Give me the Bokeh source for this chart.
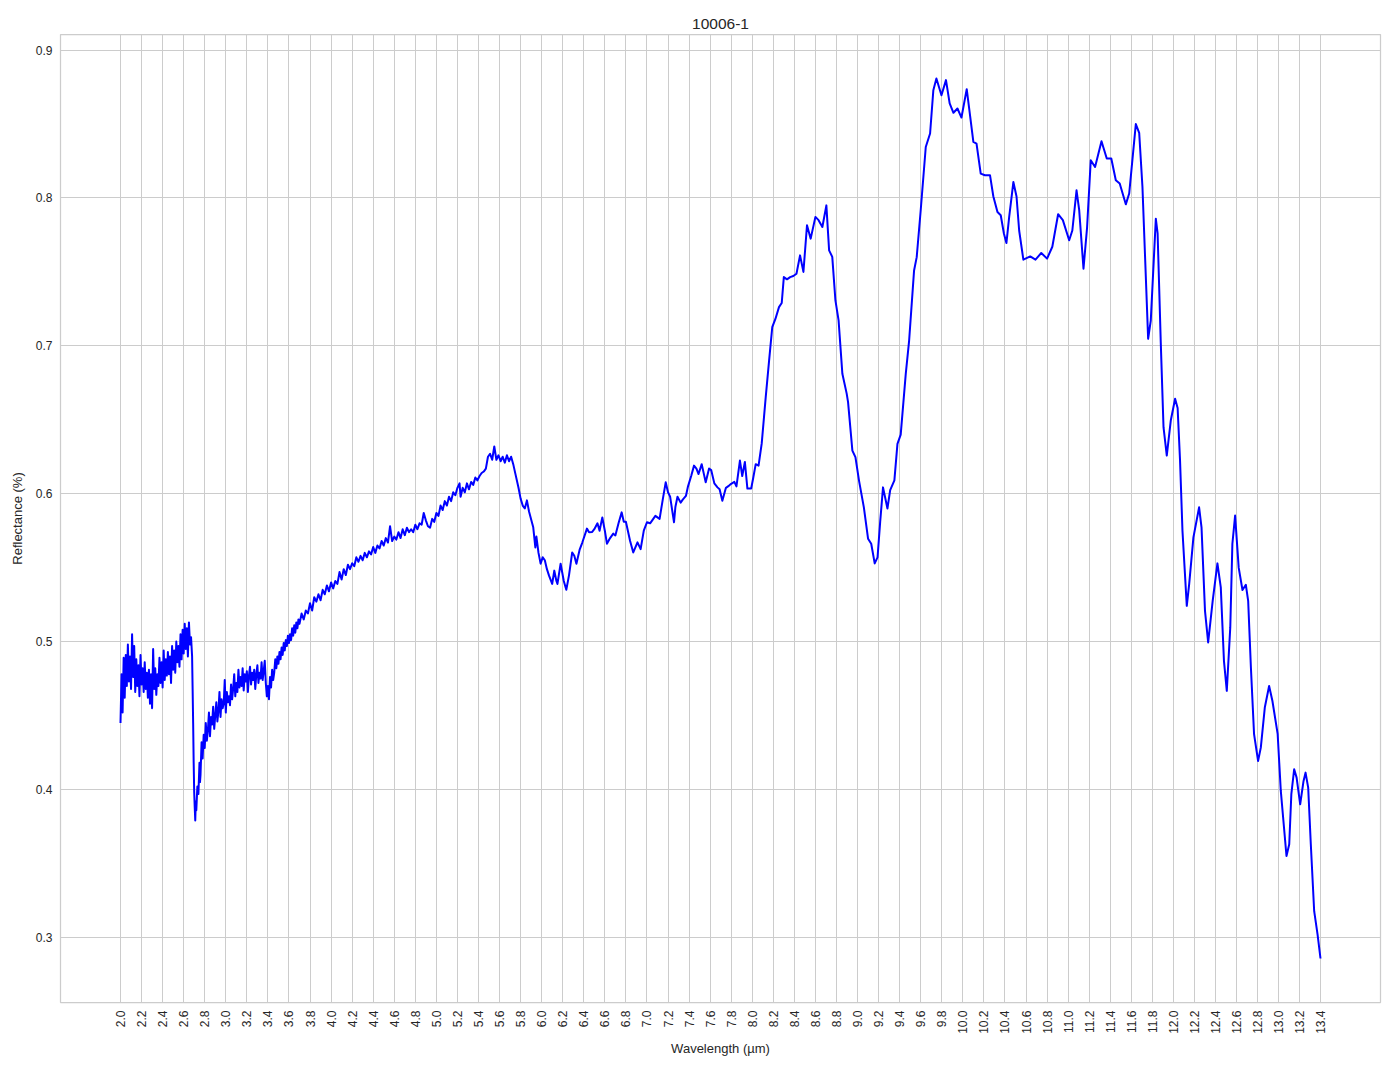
from bokeh.plotting import figure
from bokeh.models import Range1d, FixedTicker
from bokeh.embed import file_html
from bokeh.resources import INLINE
from math import pi

# ---------------- data ----------------
title_text = "10006-1"
x_label = "Wavelength (\u00b5m)"
y_label = "Reflectance (%)"

wl_a = [2.00, 2.01, 2.02, 2.03, 2.04, 2.05, 2.06, 2.07, 2.08, 2.09,
        2.10, 2.11, 2.12, 2.13, 2.14, 2.15, 2.16, 2.17, 2.18, 2.19,
        2.20, 2.21, 2.22, 2.23, 2.24, 2.25, 2.26, 2.27, 2.28, 2.29,
        2.30, 2.31, 2.32, 2.33, 2.34, 2.35, 2.36, 2.37, 2.38, 2.39,
        2.40, 2.41, 2.42, 2.43, 2.44, 2.45, 2.46, 2.47, 2.48, 2.49,
        2.50, 2.51, 2.52, 2.53, 2.54, 2.55, 2.56, 2.57, 2.58, 2.59,
        2.60, 2.61, 2.62, 2.63, 2.64, 2.65, 2.66, 2.67]
refl_a = [0.445, 0.478, 0.452, 0.489, 0.462, 0.491, 0.470, 0.498, 0.473, 0.490,
          0.468, 0.505, 0.476, 0.497, 0.466, 0.488, 0.470, 0.484, 0.463, 0.491,
          0.471, 0.482, 0.466, 0.486, 0.468, 0.479, 0.462, 0.481, 0.458, 0.478,
          0.455, 0.495, 0.468, 0.482, 0.464, 0.478, 0.470, 0.489, 0.472, 0.486,
          0.469, 0.494, 0.474, 0.488, 0.477, 0.493, 0.478, 0.490, 0.472, 0.497,
          0.481, 0.494, 0.479, 0.500, 0.486, 0.497, 0.483, 0.505, 0.488, 0.508,
          0.492, 0.512, 0.495, 0.509, 0.490, 0.513, 0.498, 0.503]

wl_b = [2.68, 2.685, 2.69, 2.695, 2.70, 2.705, 2.71, 2.715, 2.72, 2.73,
        2.74, 2.75, 2.755, 2.76, 2.77, 2.78, 2.79, 2.80, 2.81, 2.82,
        2.83, 2.84, 2.85, 2.86, 2.87, 2.88, 2.89, 2.90, 2.91, 2.92,
        2.93, 2.94, 2.95, 2.96, 2.97, 2.98, 2.99, 3.00, 3.01, 3.02,
        3.03, 3.04, 3.05, 3.06, 3.07, 3.08, 3.09, 3.10, 3.11, 3.12,
        3.13, 3.14, 3.15, 3.16, 3.17, 3.18, 3.19, 3.20, 3.21, 3.22,
        3.23, 3.24, 3.25, 3.26, 3.27, 3.28, 3.29, 3.30, 3.31, 3.32,
        3.33, 3.34, 3.35, 3.36, 3.37, 3.38, 3.39, 3.40, 3.41, 3.42,
        3.43, 3.44, 3.45, 3.46, 3.47, 3.48, 3.49, 3.50, 3.51, 3.52,
        3.53, 3.54, 3.55, 3.56, 3.57, 3.58, 3.59, 3.60, 3.61, 3.62,
        3.63, 3.64, 3.65, 3.66, 3.67, 3.68, 3.69]
refl_b = [0.490, 0.468, 0.445, 0.418, 0.398, 0.388, 0.379, 0.392, 0.386, 0.402,
          0.397, 0.418, 0.405, 0.410, 0.432, 0.421, 0.437, 0.428, 0.445, 0.433,
          0.440, 0.452, 0.436, 0.449, 0.444, 0.456, 0.441, 0.450, 0.459, 0.446,
          0.453, 0.466, 0.449, 0.461, 0.455, 0.458, 0.474, 0.452, 0.466, 0.459,
          0.463, 0.457, 0.471, 0.461, 0.468, 0.478, 0.463, 0.472, 0.466, 0.481,
          0.469, 0.476, 0.470, 0.482, 0.467, 0.478, 0.473, 0.480, 0.466, 0.477,
          0.483, 0.471, 0.479, 0.474, 0.481, 0.468, 0.478, 0.484, 0.472, 0.479,
          0.475, 0.486, 0.474, 0.480, 0.487, 0.472, 0.463, 0.470, 0.461, 0.476,
          0.469, 0.481, 0.474, 0.479, 0.488, 0.482, 0.490, 0.485, 0.493, 0.488,
          0.496, 0.491, 0.499, 0.494, 0.501, 0.497, 0.504, 0.499, 0.505, 0.501,
          0.509, 0.504, 0.511, 0.506, 0.513, 0.509, 0.515]

wl_c = [3.70, 3.72, 3.74, 3.76, 3.78, 3.80, 3.82, 3.84, 3.86, 3.88,
        3.90, 3.92, 3.94, 3.96, 3.98, 4.00, 4.02, 4.04, 4.06, 4.08,
        4.10, 4.12, 4.14, 4.16, 4.18, 4.20, 4.22, 4.24, 4.26, 4.28,
        4.30, 4.32, 4.34, 4.36, 4.38, 4.40, 4.42, 4.44, 4.46, 4.48,
        4.50, 4.52, 4.54, 4.56, 4.58, 4.60, 4.62, 4.64, 4.66, 4.68,
        4.70, 4.72, 4.74, 4.76, 4.78, 4.80, 4.82, 4.84, 4.86, 4.88,
        4.90, 4.92, 4.94, 4.96, 4.98, 5.00, 5.02, 5.04, 5.06, 5.08,
        5.10, 5.12, 5.14, 5.16, 5.18, 5.20, 5.22, 5.23, 5.25, 5.27,
        5.29, 5.31, 5.33, 5.35, 5.37, 5.39, 5.41, 5.43, 5.45, 5.47,
        5.49, 5.51, 5.53, 5.55, 5.57, 5.59, 5.61, 5.63, 5.65, 5.67,
        5.69, 5.71, 5.73]
refl_c = [0.512, 0.519, 0.515, 0.521, 0.519, 0.526, 0.521, 0.530, 0.527, 0.532,
          0.528, 0.535, 0.532, 0.538, 0.534, 0.540, 0.536, 0.541, 0.539, 0.547,
          0.542, 0.549, 0.545, 0.552, 0.549, 0.553, 0.551, 0.557, 0.554, 0.558,
          0.555, 0.560, 0.557, 0.561, 0.559, 0.564, 0.560, 0.565, 0.563, 0.568,
          0.565, 0.570, 0.567, 0.578, 0.568, 0.571, 0.569, 0.574, 0.570, 0.576,
          0.572, 0.577, 0.574, 0.576, 0.574, 0.579, 0.576, 0.580, 0.579, 0.587,
          0.582, 0.578, 0.577, 0.583, 0.581, 0.587, 0.585, 0.592, 0.589, 0.595,
          0.592, 0.598, 0.595, 0.601, 0.599, 0.604, 0.607, 0.598, 0.604, 0.601,
          0.607, 0.603, 0.608, 0.606, 0.611, 0.609, 0.612, 0.614, 0.615, 0.617,
          0.625, 0.627, 0.623, 0.632, 0.623, 0.626, 0.622, 0.625, 0.621, 0.626,
          0.622, 0.625, 0.620]

wl_d = [5.75, 5.78, 5.80, 5.82, 5.84, 5.86, 5.88, 5.92, 5.94, 5.95,
        5.97, 5.99, 6.01, 6.03, 6.05, 6.07, 6.10, 6.12, 6.14, 6.15,
        6.18, 6.21, 6.234, 6.26, 6.29, 6.31, 6.33, 6.36, 6.386, 6.43,
        6.45, 6.48, 6.50, 6.53, 6.55, 6.576, 6.60, 6.62, 6.65, 6.68,
        6.70, 6.73, 6.76, 6.78, 6.80, 6.84, 6.87, 6.91, 6.94, 6.97,
        7.00, 7.03, 7.06, 7.08, 7.12, 7.15, 7.178, 7.20, 7.22, 7.257,
        7.27, 7.29, 7.32, 7.34, 7.37, 7.39, 7.42, 7.447, 7.47, 7.49,
        7.52, 7.558, 7.59, 7.61, 7.64, 7.67, 7.69, 7.716, 7.75, 7.78,
        7.80, 7.83, 7.85, 7.883, 7.905, 7.93, 7.954, 7.99, 8.01, 8.033,
        8.06, 8.09, 8.128, 8.16, 8.19, 8.22, 8.254, 8.28, 8.30, 8.33,
        8.36, 8.39, 8.42, 8.454, 8.486, 8.52, 8.555, 8.60, 8.63, 8.666,
        8.704, 8.73, 8.76, 8.79, 8.82, 8.856, 8.897, 8.91, 8.951, 8.98,
        9.014, 9.06, 9.10, 9.13, 9.163, 9.19, 9.215, 9.242, 9.284, 9.31,
        9.35, 9.379, 9.41, 9.458, 9.49, 9.537, 9.562, 9.60, 9.648, 9.689,
        9.72, 9.749, 9.797, 9.84, 9.875, 9.911, 9.949, 9.987, 10.037, 10.07,
        10.10, 10.13, 10.17, 10.21, 10.258, 10.29, 10.329, 10.36, 10.39, 10.414,
        10.44, 10.48, 10.51, 10.535, 10.575, 10.64, 10.69, 10.745, 10.80, 10.85,
        10.905, 10.95, 11.01, 11.04, 11.08, 11.105, 11.146, 11.18, 11.215, 11.256,
        11.317, 11.367, 11.41, 11.453, 11.49, 11.548, 11.58, 11.643, 11.675, 11.706,
        11.76, 11.785, 11.833, 11.85, 11.88, 11.906, 11.937, 11.975, 12.016, 12.04,
        12.063, 12.086, 12.127, 12.15, 12.19, 12.244, 12.267, 12.30, 12.33, 12.373,
        12.418, 12.45, 12.48, 12.507, 12.54, 12.56, 12.586, 12.62, 12.656, 12.688,
        12.71, 12.736, 12.766, 12.804, 12.83, 12.868, 12.909, 12.94, 12.99, 13.02,
        13.074, 13.10, 13.12, 13.147, 13.17, 13.204, 13.236, 13.255, 13.28, 13.305,
        13.337, 13.369, 13.397]
refl_d = [0.6136, 0.604, 0.5967, 0.592, 0.590, 0.5955, 0.588, 0.5773, 0.5637, 0.571,
          0.560, 0.5527, 0.557, 0.555, 0.549, 0.5446, 0.539, 0.548, 0.541, 0.539,
          0.5527, 0.541, 0.535, 0.545, 0.5603, 0.558, 0.5527, 0.562, 0.567, 0.5764,
          0.574, 0.5742, 0.576, 0.580, 0.575, 0.584, 0.575, 0.5662, 0.570, 0.573,
          0.5718, 0.580, 0.5874, 0.581, 0.581, 0.568, 0.5603, 0.5671, 0.5625, 0.575,
          0.5807, 0.580, 0.583, 0.585, 0.583, 0.596, 0.6077, 0.601, 0.598, 0.5807,
          0.591, 0.598, 0.594, 0.596, 0.5985, 0.605, 0.612, 0.619, 0.617, 0.6133,
          0.620, 0.6077, 0.617, 0.616, 0.607, 0.6043, 0.603, 0.5953, 0.604, 0.6055,
          0.6067, 0.608, 0.605, 0.6224, 0.612, 0.6215, 0.6035, 0.6035, 0.611, 0.620,
          0.619, 0.634, 0.6653, 0.690, 0.7126, 0.7182, 0.7262, 0.729, 0.7465, 0.745,
          0.7465, 0.7472, 0.7488, 0.7612, 0.750, 0.7815, 0.7725, 0.7872, 0.785, 0.7804,
          0.795, 0.7646, 0.7602, 0.7307, 0.7172, 0.6811, 0.6677, 0.662, 0.6292, 0.6247,
          0.6089, 0.5908, 0.5696, 0.5662, 0.5529, 0.557, 0.581, 0.6043, 0.590, 0.6025,
          0.609, 0.6337, 0.640, 0.6811, 0.7036, 0.751, 0.760, 0.7917, 0.8345, 0.8436,
          0.8729, 0.8808, 0.8695, 0.8797, 0.864, 0.8576, 0.8605, 0.8544, 0.8736, 0.855,
          0.8379, 0.8368, 0.8165, 0.8154, 0.8154, 0.801, 0.7905, 0.7883, 0.776, 0.7695,
          0.787, 0.8108, 0.801, 0.778, 0.7583, 0.7605, 0.7583, 0.7628, 0.759, 0.767,
          0.789, 0.785, 0.7714, 0.778, 0.8052, 0.792, 0.7522, 0.780, 0.8255, 0.821,
          0.8384, 0.8267, 0.8267, 0.812, 0.8098, 0.7957, 0.803, 0.850, 0.844, 0.8074,
          0.7048, 0.717, 0.786, 0.776, 0.702, 0.645, 0.6258, 0.6495, 0.6642, 0.658,
          0.6224, 0.575, 0.5242, 0.539, 0.5705, 0.5908, 0.5773, 0.5208, 0.4994, 0.5276,
          0.5529, 0.5367, 0.487, 0.4667, 0.5096, 0.566, 0.5852, 0.550, 0.5349, 0.5384,
          0.5276, 0.4825, 0.4374, 0.4193, 0.4283, 0.4554, 0.470, 0.460, 0.4376, 0.399,
          0.355, 0.363, 0.3968, 0.4137, 0.408, 0.390, 0.4058, 0.4114, 0.4013, 0.363,
          0.3177, 0.302, 0.2857]

x_ticks = [2.0, 2.2, 2.4, 2.6, 2.8, 3.0, 3.2, 3.4, 3.6, 3.8, 4.0, 4.2, 4.4, 4.6,
           4.8, 5.0, 5.2, 5.4, 5.6, 5.8, 6.0, 6.2, 6.4, 6.6, 6.8, 7.0, 7.2, 7.4,
           7.6, 7.8, 8.0, 8.2, 8.4, 8.6, 8.8, 9.0, 9.2, 9.4, 9.6, 9.8, 10.0, 10.2,
           10.4, 10.6, 10.8, 11.0, 11.2, 11.4, 11.6, 11.8, 12.0, 12.2, 12.4, 12.6,
           12.8, 13.0, 13.2, 13.4]
x_tick_labels = ["2.0", "2.2", "2.4", "2.6", "2.8", "3.0", "3.2", "3.4", "3.6", "3.8",
                 "4.0", "4.2", "4.4", "4.6", "4.8", "5.0", "5.2", "5.4", "5.6", "5.8",
                 "6.0", "6.2", "6.4", "6.6", "6.8", "7.0", "7.2", "7.4", "7.6", "7.8",
                 "8.0", "8.2", "8.4", "8.6", "8.8", "9.0", "9.2", "9.4", "9.6", "9.8",
                 "10.0", "10.2", "10.4", "10.6", "10.8", "11.0", "11.2", "11.4", "11.6",
                 "11.8", "12.0", "12.2", "12.4", "12.6", "12.8", "13.0", "13.2", "13.4"]
y_ticks = [0.3, 0.4, 0.5, 0.6, 0.7, 0.8, 0.9]
y_tick_labels = ["0.3", "0.4", "0.5", "0.6", "0.7", "0.8", "0.9"]

# ---------------- assemble ----------------
wavelength = wl_a + wl_b + wl_c + wl_d
reflectance = refl_a + refl_b + refl_c + refl_d

xmin, xmax = min(wavelength), max(wavelength)
ymin, ymax = min(reflectance), max(reflectance)
xpad = 0.05 * (xmax - xmin)
ypad = 0.05 * (ymax - ymin)

FONT = "Liberation Sans"
TXT = "#262626"
GRID = "#cccccc"

p = figure(width=1394, height=1069, output_backend="svg", toolbar_location=None,
           x_range=Range1d(xmin - xpad, xmax + xpad),
           y_range=Range1d(ymin - ypad, ymax + ypad),
           min_border_left=60, min_border_right=14, min_border_top=34,
           min_border_bottom=67)

p.title.text = title_text
p.title.align = "center"
p.title.text_font = FONT
p.title.text_font_size = "15.5px"
p.title.text_font_style = "normal"
p.title.text_color = TXT
p.title.standoff = 12

p.line(wavelength, reflectance, line_color="#0000ff", line_width=2, line_join="round")

p.xaxis.ticker = FixedTicker(ticks=x_ticks)
p.xaxis.major_label_overrides = dict(zip(x_ticks, x_tick_labels))
p.yaxis.ticker = FixedTicker(ticks=y_ticks)
p.yaxis.major_label_overrides = dict(zip(y_ticks, y_tick_labels))
p.xaxis.major_label_orientation = pi / 2

for ax in (p.xaxis, p.yaxis):
    ax.axis_line_color = None
    ax.major_tick_line_color = None
    ax.minor_tick_line_color = None
    ax.major_tick_in = 0
    ax.major_tick_out = 0
    ax.minor_tick_in = 0
    ax.minor_tick_out = 0
    ax.major_label_text_font = FONT
    ax.major_label_text_font_size = "12px"
    ax.major_label_text_color = TXT
    ax.major_label_standoff = 8
    ax.axis_label_text_font = FONT
    ax.axis_label_text_font_size = "13px"
    ax.axis_label_text_font_style = "normal"
    ax.axis_label_text_color = TXT

p.xaxis.axis_label_standoff = 4
p.yaxis.axis_label_standoff = 8
p.xaxis.axis_label = x_label
p.yaxis.axis_label = y_label

p.xgrid.grid_line_color = GRID
p.ygrid.grid_line_color = GRID
p.xgrid.grid_line_width = 1
p.ygrid.grid_line_width = 1
p.outline_line_color = GRID
p.outline_line_width = 1.25
p.background_fill_color = "white"
p.border_fill_color = "white"

open("out.html", "w").write(file_html(p, INLINE))
